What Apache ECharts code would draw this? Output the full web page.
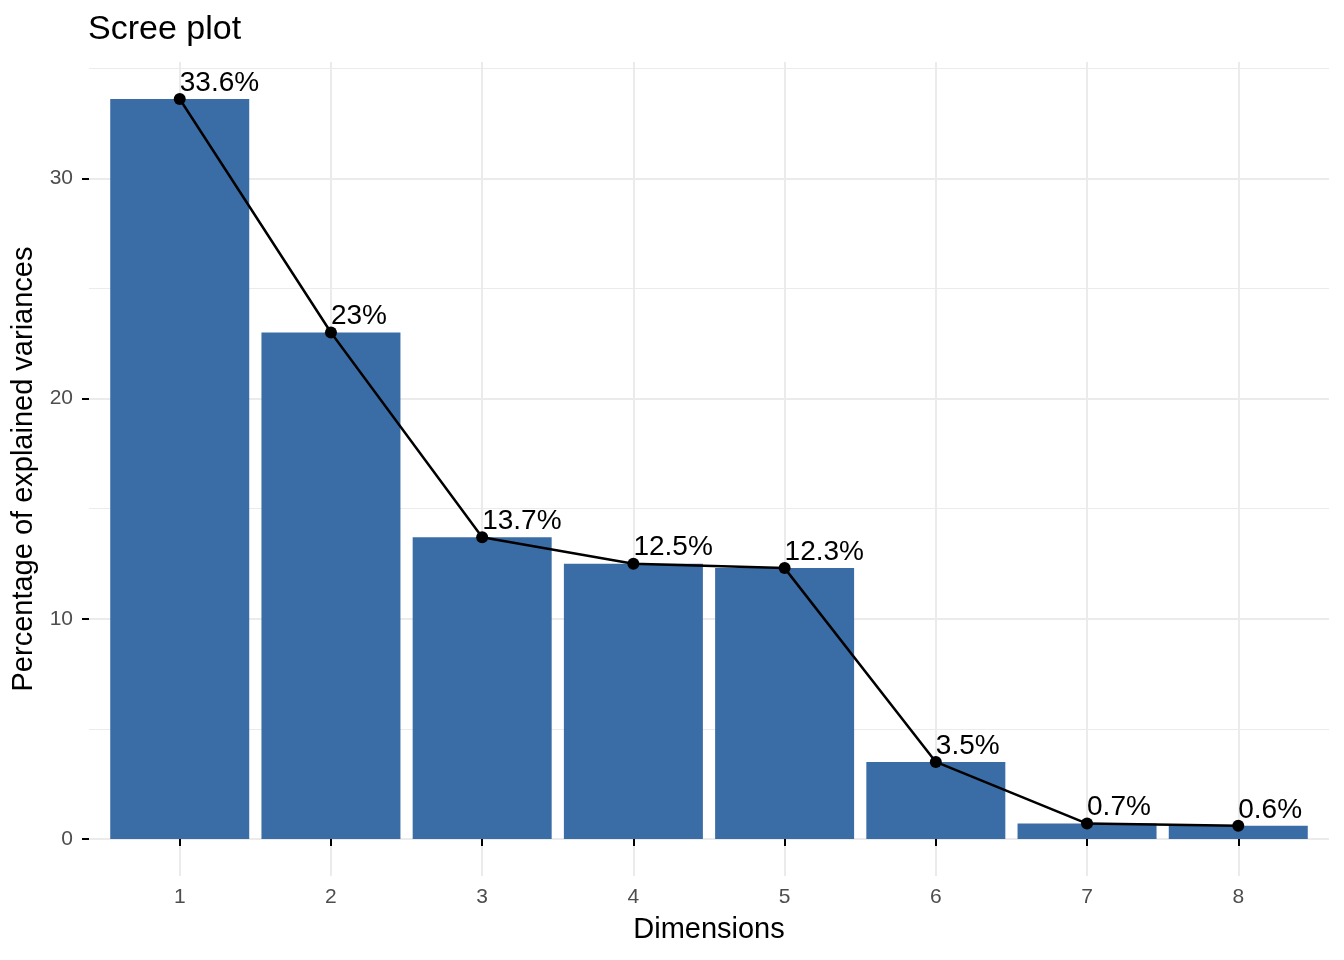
<!DOCTYPE html>
<html>
<head>
<meta charset="utf-8">
<script src="https://cdn.jsdelivr.net/npm/echarts@6/dist/echarts.min.js"></script>
<style>
html,body{margin:0;padding:0;background:#fff;}
#chart{width:1344px;height:960px;}
</style>
</head>
<body>
<div id="chart"></div>
<script>
// ---- data ----
const dimensions = [1, 2, 3, 4, 5, 6, 7, 8];
const variances = [33.6, 23.0, 13.7, 12.5, 12.3, 3.5, 0.7, 0.6];
const yMajorTicks = [0, 10, 20, 30];
const yMinorTicks = [5, 15, 25, 35];
const xTicks = [1, 2, 3, 4, 5, 6, 7, 8];

const FONT = 'Liberation Sans, Arial, Helvetica, sans-serif';
const vmax = Math.max(...variances);
const yMin = -vmax * 0.05, yMax = vmax * 1.05;

const points = dimensions.map((d, i) => [d, variances[i]]);

const chart = echarts.init(document.getElementById('chart'), null, {renderer: 'canvas'});
chart.setOption({
  backgroundColor: '#ffffff',
  animation: false,
  title: {
    text: 'Scree plot',
    left: 83, top: 8,
    textStyle: {fontFamily: FONT, fontSize: 34, fontWeight: 'normal', color: '#000'}
  },
  grid: {left: 89, right: 15, top: 62, bottom: 84, containLabel: false},
  xAxis: [{
    type: 'value', min: 0.4, max: 8.6,
    name: 'Dimensions', nameLocation: 'middle', nameGap: 39,
    nameTextStyle: {fontFamily: FONT, fontSize: 29, color: '#000'},
    axisLine: {show: false},
    axisTick: {show: true, customValues: xTicks, length: 7, lineStyle: {color: '#000', width: 2}},
    axisLabel: {customValues: xTicks, margin: 11, fontFamily: FONT, fontSize: 21, color: '#4d4d4d'},
    splitLine: {show: true, lineStyle: {color: '#ebebeb', width: 2}}
  }],
  yAxis: [{
    type: 'value', min: yMin, max: yMax,
    name: 'Percentage of explained variances', nameLocation: 'middle', nameGap: 49, nameRotate: 90,
    nameTextStyle: {fontFamily: FONT, fontSize: 29, color: '#000'},
    axisLine: {show: false},
    axisTick: {show: true, customValues: yMajorTicks, length: 7, lineStyle: {color: '#000', width: 2}},
    axisLabel: {customValues: yMajorTicks, margin: 16, fontFamily: FONT, fontSize: 21, color: '#4d4d4d'},
    splitLine: {show: true, lineStyle: {color: '#ebebeb', width: 2}}
  }, {
    type: 'value', min: yMin, max: yMax, position: 'left',
    axisLine: {show: false},
    axisTick: {show: false, customValues: yMinorTicks},
    axisLabel: {show: false, customValues: yMinorTicks},
    splitLine: {show: true, lineStyle: {color: '#ebebeb', width: 1}}
  }],
  series: [{
    type: 'bar',
    xAxisIndex: 0, yAxisIndex: 0,
    data: points,
    barWidth: 139,
    itemStyle: {color: '#3a6da5'},
    z: 2
  }, {
    type: 'line',
    xAxisIndex: 0, yAxisIndex: 0,
    data: points,
    symbol: 'circle', symbolSize: 12, showAllSymbol: true,
    itemStyle: {color: '#000'},
    lineStyle: {color: '#000', width: 2.5},
    label: {
      show: true,
      position: [6, 6],
      offset: [0, -2],
      align: 'left', verticalAlign: 'bottom',
      fontFamily: FONT, fontSize: 28, color: '#000',
      formatter: p => p.value[1] + '%'
    },
    z: 3
  }]
});
</script>
</body>
</html>
